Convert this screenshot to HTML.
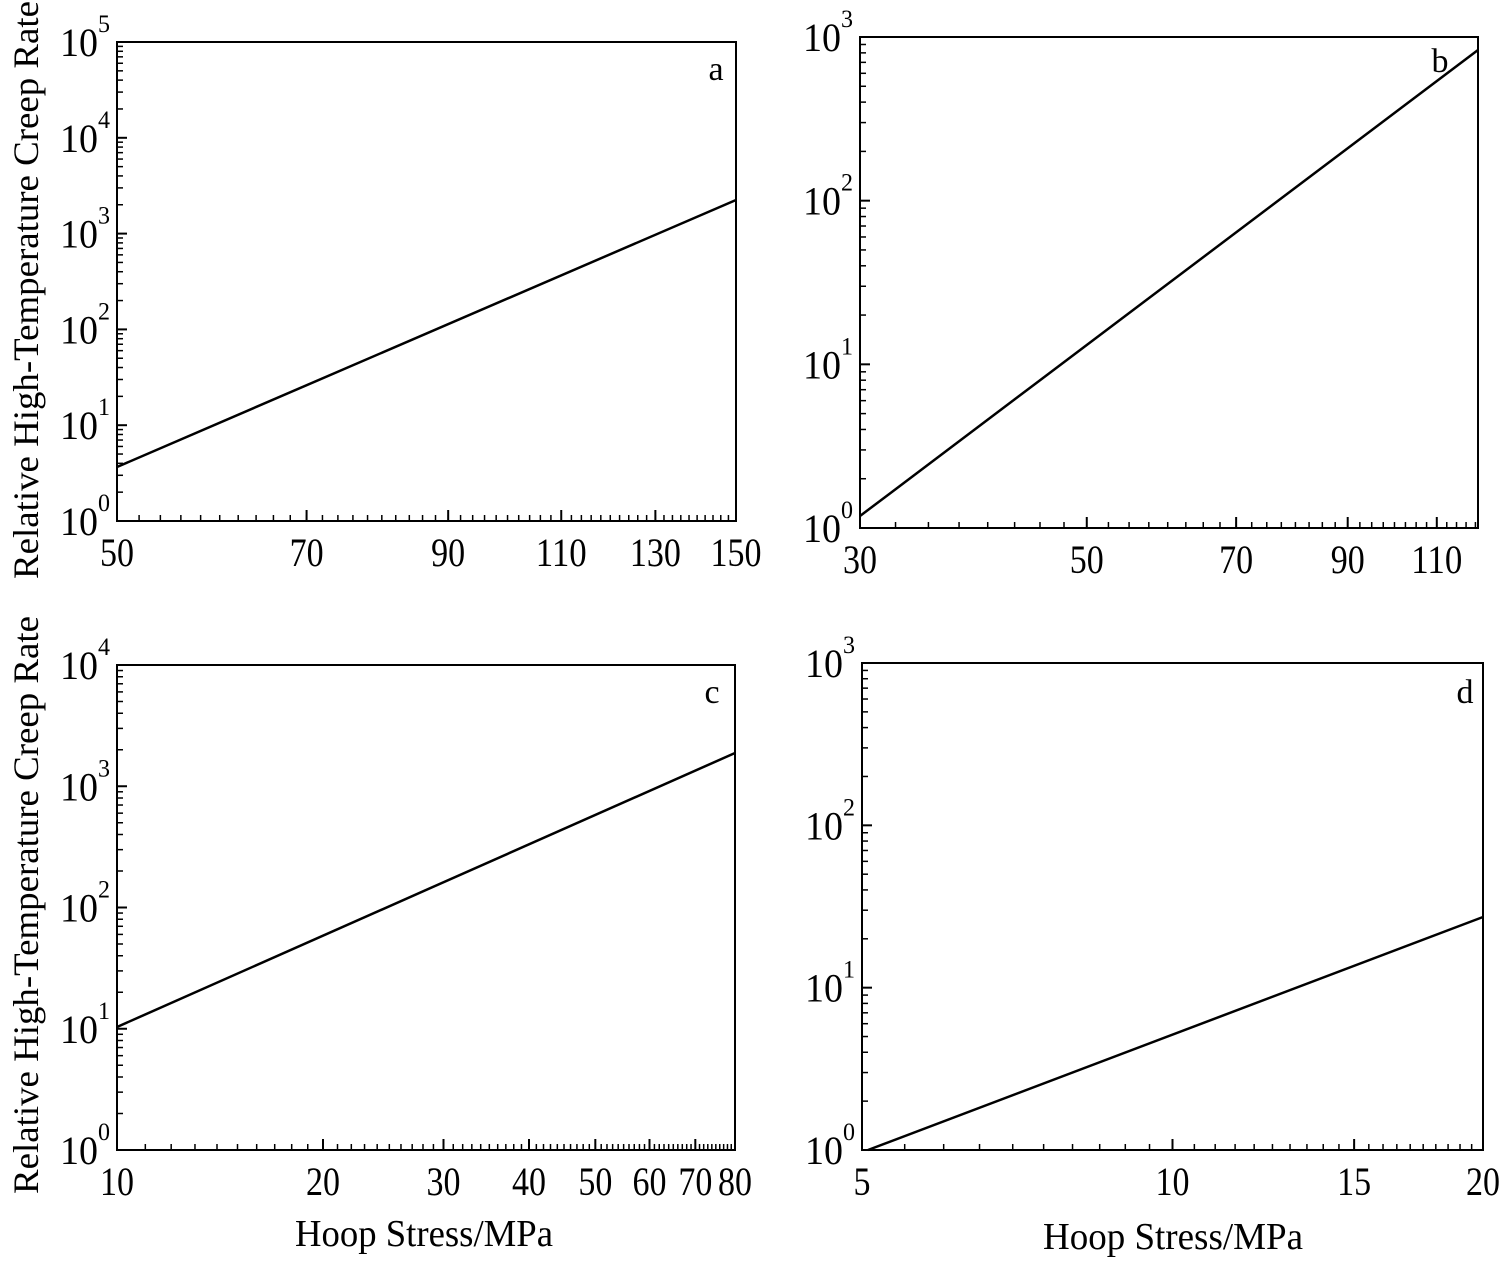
<!DOCTYPE html>
<html><head><meta charset="utf-8"><style>
html,body{margin:0;padding:0;background:#fff;}
svg{display:block;font-family:"Liberation Serif",serif;}
</style></head><body>
<svg id="s" width="1507" height="1262" xmlns="http://www.w3.org/2000/svg"></svg>
<script>
const S=document.getElementById('s');let h='';
function t(x,y,s,fs,a,w){return `<text x="${x}" y="${y}" font-size="${fs}" text-anchor="${a}"${w?` textLength="${w}" lengthAdjust="spacingAndGlyphs"`:''}>${s}</text>`;}
const P=[
 {L:117,R:736,T:42,B:521,x0:50,x1:150,dec:5,maj:[50,70,90,110,130,150],mn:2,line:[[117,467],[736,200]],lt:'a',lx:716,ly:80},
 {L:860,R:1478,T:37,B:528,x0:30,x1:120.7,dec:3,maj:[30,50,70,90,110],mn:2.5,line:[[860,516],[1478,50]],lt:'b',lx:1440,ly:72},
 {L:117,R:735,T:665,B:1150,x0:10,x1:80,dec:4,maj:[10,20,30,40,50,60,70,80],mn:1,line:[[117,1027],[735,753]],lt:'c',lx:712,ly:703},
 {L:862,R:1483,T:663,B:1150,x0:5,x1:20,dec:3,maj:[5,10,15,20],mn:0.5,line:[[868,1150],[1483,917]],lt:'d',lx:1465,ly:703}
];
for(const p of P){
 const fx=v=>p.L+(Math.log(v/p.x0)/Math.log(p.x1/p.x0))*(p.R-p.L);
 const dh=(p.B-p.T)/p.dec;
 h+=`<rect x="${p.L}" y="${p.T}" width="${p.R-p.L}" height="${p.B-p.T}" fill="none" stroke="#000" stroke-width="2"/>`;
 for(let d=0;d<=p.dec;d++){
  const y=p.B-d*dh;
  h+=`<line x1="${p.L}" x2="${p.L+10}" y1="${y}" y2="${y}" stroke="#000" stroke-width="2"/>`;
  h+=t(p.L-57,y+14,'10',40,'start',38)+t(p.L-19,y-10,d,25,'start',12);
  if(d<p.dec)for(let k=2;k<10;k++){const yy=y-Math.log10(k)*dh;h+=`<line x1="${p.L}" x2="${p.L+6}" y1="${yy}" y2="${yy}" stroke="#000" stroke-width="1.5"/>`;}
 }
 for(let v=p.x0;v<=p.x1+1e-6;v+=p.mn){const x=fx(v);h+=`<line x1="${x}" x2="${x}" y1="${p.B}" y2="${p.B-6}" stroke="#000" stroke-width="1.5"/>`;}
 for(const v of p.maj){const x=fx(v);const s=String(v);h+=`<line x1="${x}" x2="${x}" y1="${p.B}" y2="${p.B-11}" stroke="#000" stroke-width="2"/>`+t(x,p.B+45,s,40,'middle',s.length*17);}
 h+=`<line x1="${p.line[0][0]}" y1="${p.line[0][1]}" x2="${p.line[1][0]}" y2="${p.line[1][1]}" stroke="#000" stroke-width="2.5"/>`;
 h+=`<text x="${p.lx}" y="${p.ly}" font-size="34" text-anchor="middle">${p.lt}</text>`;
}
h+=`<g transform="translate(38,290) rotate(-90)">${t(0,0,'Relative High-Temperature Creep Rate',36,'middle',578)}</g>`;
h+=`<g transform="translate(38,905) rotate(-90)">${t(0,0,'Relative High-Temperature Creep Rate',36,'middle',578)}</g>`;
h+=t(424,1246,'Hoop Stress/MPa',38,'middle',258);
h+=t(1173,1249,'Hoop Stress/MPa',38,'middle',260);
S.innerHTML=h;
</script>
</body></html>
